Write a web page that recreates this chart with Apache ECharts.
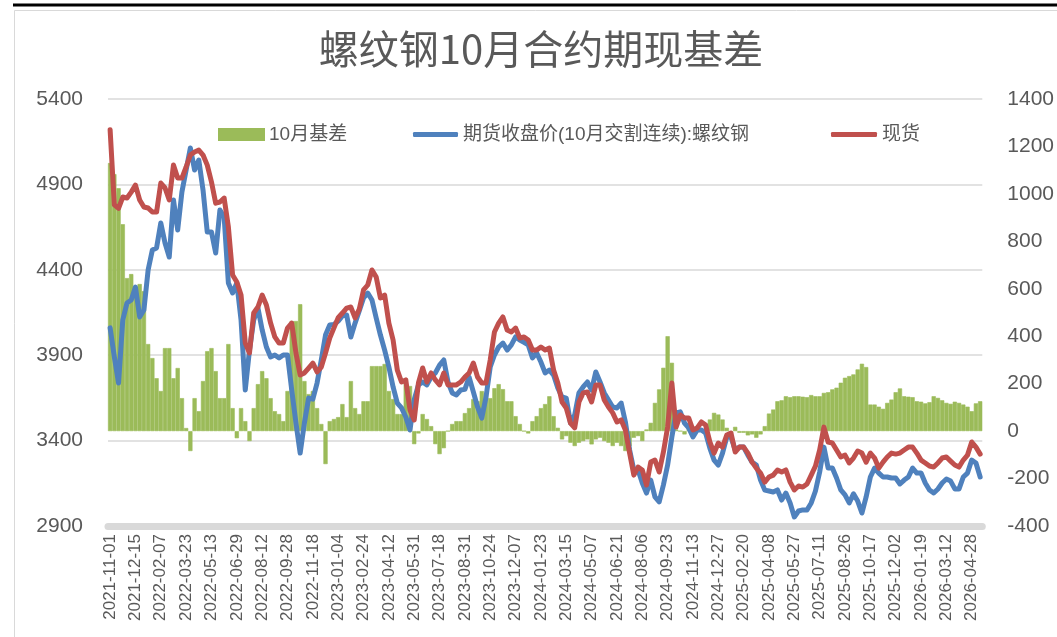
<!DOCTYPE html>
<html><head><meta charset="utf-8">
<script src="https://cdn.jsdelivr.net/npm/echarts@6/dist/echarts.min.js"></script>
<style>html,body{margin:0;padding:0;background:#fff}#c{width:1057px;height:637px}</style>
</head><body><div id="c"></div>
<script>
// x-axis tick labels (one every 6 categories)
const tickDates = ['2021-11-01','2021-12-15','2022-02-07','2022-03-23','2022-05-13','2022-06-29','2022-08-12','2022-09-28','2022-11-18','2023-01-04','2023-02-24','2023-04-12','2023-05-31','2023-07-18','2023-08-31','2023-10-24','2023-12-07','2024-01-23','2024-03-15','2024-05-07','2024-06-21','2024-08-06','2024-09-23','2024-11-13','2024-12-27','2025-02-20','2025-04-08','2025-05-27','2025-07-11','2025-08-26','2025-10-17','2025-12-02','2026-01-19','2026-03-12','2026-04-28'];

// 现货
const spot = [5220,4780,4760,4826,4820,4855,4896,4809,4768,4762,4738,4738,4908,4879,4809,5013,4937,4937,5002,5072,5090,5101,5072,5013,4914,4790,4797,4820,4651,4370,4329,4252,3971,3913,4147,4182,4252,4194,4088,4007,3971,3971,4059,4088,3913,3784,3796,3825,3854,3802,3830,3913,4001,
4060,4120,4147,4176,4182,4118,4170,4282,4311,4399,4358,4235,4252,4088,3989,3813,3743,3755,3579,3521,3737,3825,3743,3796,3755,3726,3796,3726,3726,3726,3743,3772,3796,3854,3772,3737,3737,3872,4036,4088,4124,4048,4036,4059,4001,4007,3989,3930,3930,3948,3930,
3942,3813,3737,3626,3591,3503,3474,3626,3679,3685,3626,3726,3726,3638,3597,3562,3509,3521,3462,3327,3198,3245,3228,3140,3274,3286,3216,3333,3479,3737,3479,3550,3532,3532,3462,3474,3509,3491,3392,3327,3386,3362,3433,3444,3333,3362,3362,3327,3274,3239,3210,3157,
3187,3198,3228,3216,3228,3157,3111,3134,3128,3146,3198,3251,3345,3479,3392,3386,3345,3304,3315,3269,3298,3339,3327,3274,3327,3298,3239,3274,3304,3327,3321,3327,3345,3362,3362,3327,3286,3269,3251,3245,3269,3298,3304,3280,3257,3245,3286,3315,3392,3362,3321];

// 期货收盘价(10月交割连续):螺纹钢
const futures = [4060,3890,3737,4106,4206,4223,4299,4124,4165,4399,4516,4528,4674,4557,4475,4809,4633,4855,4984,5113,4984,5043,4867,4621,4621,4498,4750,4709,4323,4264,4323,4106,3696,3930,4106,4176,4048,3948,3890,3901,3884,3901,3901,3696,3503,3327,3503,3649,3643,3737,3872,4018,4077,
4080,4100,4130,4135,4007,4088,4160,4235,4264,4223,4118,4018,3930,3831,3714,3620,3591,3538,3462,3640,3726,3743,3726,3772,3796,3842,3872,3743,3679,3667,3696,3700,3772,3685,3597,3532,3655,3831,3901,3948,3971,3930,3960,4007,3989,3975,3960,3884,3913,3860,3796,
3813,3784,3708,3655,3649,3503,3550,3679,3714,3743,3696,3802,3743,3679,3638,3597,3591,3620,3509,3345,3228,3228,3152,3093,3169,3070,3041,3140,3257,3421,3562,3568,3503,3474,3421,3462,3462,3444,3356,3286,3257,3327,3421,3421,3345,3362,3362,3315,3274,3257,3169,3110,
3105,3099,3111,3052,3093,3035,2953,2988,2994,2994,3035,3105,3216,3362,3239,3239,3181,3111,3082,3035,3088,3046,2976,3070,3187,3239,3210,3187,3187,3181,3181,3146,3169,3187,3239,3210,3210,3152,3111,3093,3117,3152,3175,3163,3117,3117,3187,3210,3286,3269,3187];

// 10月基差
const basis = [1130,1083,1024,872,645,662,561,620,590,367,308,223,169,350,350,223,266,139,13,-84,139,84,211,337,350,253,139,139,367,97,-30,97,42,-42,97,198,253,223,139,84,72,42,169,464,464,535,211,156,169,97,30,-139,42,
51,59,114,59,211,97,72,126,126,274,274,274,283,169,135,72,72,223,190,-55,-10,72,51,21,-55,-97,-72,0,30,42,42,76,97,135,126,169,160,139,181,198,177,126,126,63,30,0,-10,42,63,97,114,
147,63,14,-35,-21,-49,-63,-49,-42,-35,-56,-35,-28,-42,-49,-63,-49,-63,-84,-63,-28,-21,-42,7,35,119,176,267,400,288,7,0,-14,28,14,21,7,7,49,77,70,49,14,-7,18,-7,-7,-18,-14,-28,-14,21,
74,91,126,130,147,143,147,147,145,143,152,147,147,161,164,176,183,204,225,232,239,260,284,270,112,112,103,94,119,133,164,180,147,145,143,126,124,117,122,147,140,130,119,115,124,119,112,103,84,117,126];

const leftAxis = {min: 2900, max: 5400, interval: 500};
const rightAxis = {min: -400, max: 1400, interval: 200};
const PER_TICK = 6;

const categories = spot.map((_, i) => {
  const k = Math.floor(i / PER_TICK), j = i % PER_TICK;
  return j === 0 ? tickDates[k] : tickDates[k] + '#' + j;
});

const TXT = '#595959';
const FONT = "'Liberation Sans','Noto Sans CJK SC',sans-serif";
const chart = echarts.init(document.getElementById('c'), null, {renderer: 'canvas'});
const legendBase = {
  top: 120, orient: 'horizontal', selectedMode: false,
  textStyle: {color: TXT, fontSize: 19, fontFamily: FONT}
};
const plain = v => String(v);
chart.setOption({
  backgroundColor: '#fff',
  animation: false,
  graphic: [
    {type: 'line', shape: {x1: 13, y1: 5, x2: 1057, y2: 5}, style: {stroke: '#000', lineWidth: 3}},
    {type: 'line', shape: {x1: 14.5, y1: 10.5, x2: 1057, y2: 10.5}, style: {stroke: '#d9d9d9', lineWidth: 1}},
    {type: 'line', shape: {x1: 14.5, y1: 10.5, x2: 14.5, y2: 637}, style: {stroke: '#d9d9d9', lineWidth: 1}},
    {type: 'text', x: 541, y: 49, style: {text: '螺纹钢10月合约期现基差', fill: TXT, font: "40px 'Noto Sans CJK SC', sans-serif", align: 'center', verticalAlign: 'middle', textAlign: 'center', textVerticalAlign: 'middle'}}
  ],
  legend: [
    Object.assign({}, legendBase, {left: 213, data: [{name: '10月基差', icon: 'rect'}], itemWidth: 45, itemHeight: 11}),
    Object.assign({}, legendBase, {left: 408, data: [{name: '期货收盘价(10月交割连续):螺纹钢', icon: 'roundRect'}], itemWidth: 45, itemHeight: 5}),
    Object.assign({}, legendBase, {left: 826, data: [{name: '现货', icon: 'roundRect'}], itemWidth: 46, itemHeight: 5})
  ],
  grid: {left: 108, right: 72, top: 99, bottom: 111, containLabel: false},
  xAxis: {
    type: 'category', data: categories, boundaryGap: true,
    axisLine: {onZero: false, lineStyle: {color: '#d9d9d9', width: 7}},
    axisTick: {show: false},
    splitLine: {show: false},
    axisLabel: {
      interval: PER_TICK - 1, rotate: 90, margin: 8, color: TXT, fontSize: 17, fontFamily: FONT,
      formatter: v => v.indexOf('#') >= 0 ? '' : v
    }
  },
  yAxis: [
    {type: 'value', min: leftAxis.min, max: leftAxis.max, interval: leftAxis.interval, position: 'left',
      axisLine: {show: false}, axisTick: {show: false},
      splitLine: {show: true, lineStyle: {color: '#d9d9d9', width: 1.5}},
      axisLabel: {color: TXT, fontSize: 21, margin: 25, fontFamily: FONT, formatter: plain}},
    {type: 'value', min: rightAxis.min, max: rightAxis.max, interval: rightAxis.interval, position: 'right',
      axisLine: {show: false}, axisTick: {show: false}, splitLine: {show: false},
      axisLabel: {color: TXT, fontSize: 21, margin: 25, fontFamily: FONT, formatter: plain}}
  ],
  series: [
    {name: '10月基差', type: 'bar', yAxisIndex: 1, data: basis, barCategoryGap: '0%', barGap: '0%',
      itemStyle: {color: '#9bbb59', borderColor: '#9bbb59', borderWidth: 0.6}, emphasis: {disabled: true}},
    {name: '期货收盘价(10月交割连续):螺纹钢', type: 'line', yAxisIndex: 0, data: futures, symbol: 'none',
      lineStyle: {color: '#4f81bd', width: 5, cap: 'round', join: 'round'}, itemStyle: {color: '#4f81bd'}},
    {name: '现货', type: 'line', yAxisIndex: 0, data: spot, symbol: 'none',
      lineStyle: {color: '#c0504d', width: 5, cap: 'round', join: 'round'}, itemStyle: {color: '#c0504d'}}
  ]
});
</script></body></html>
